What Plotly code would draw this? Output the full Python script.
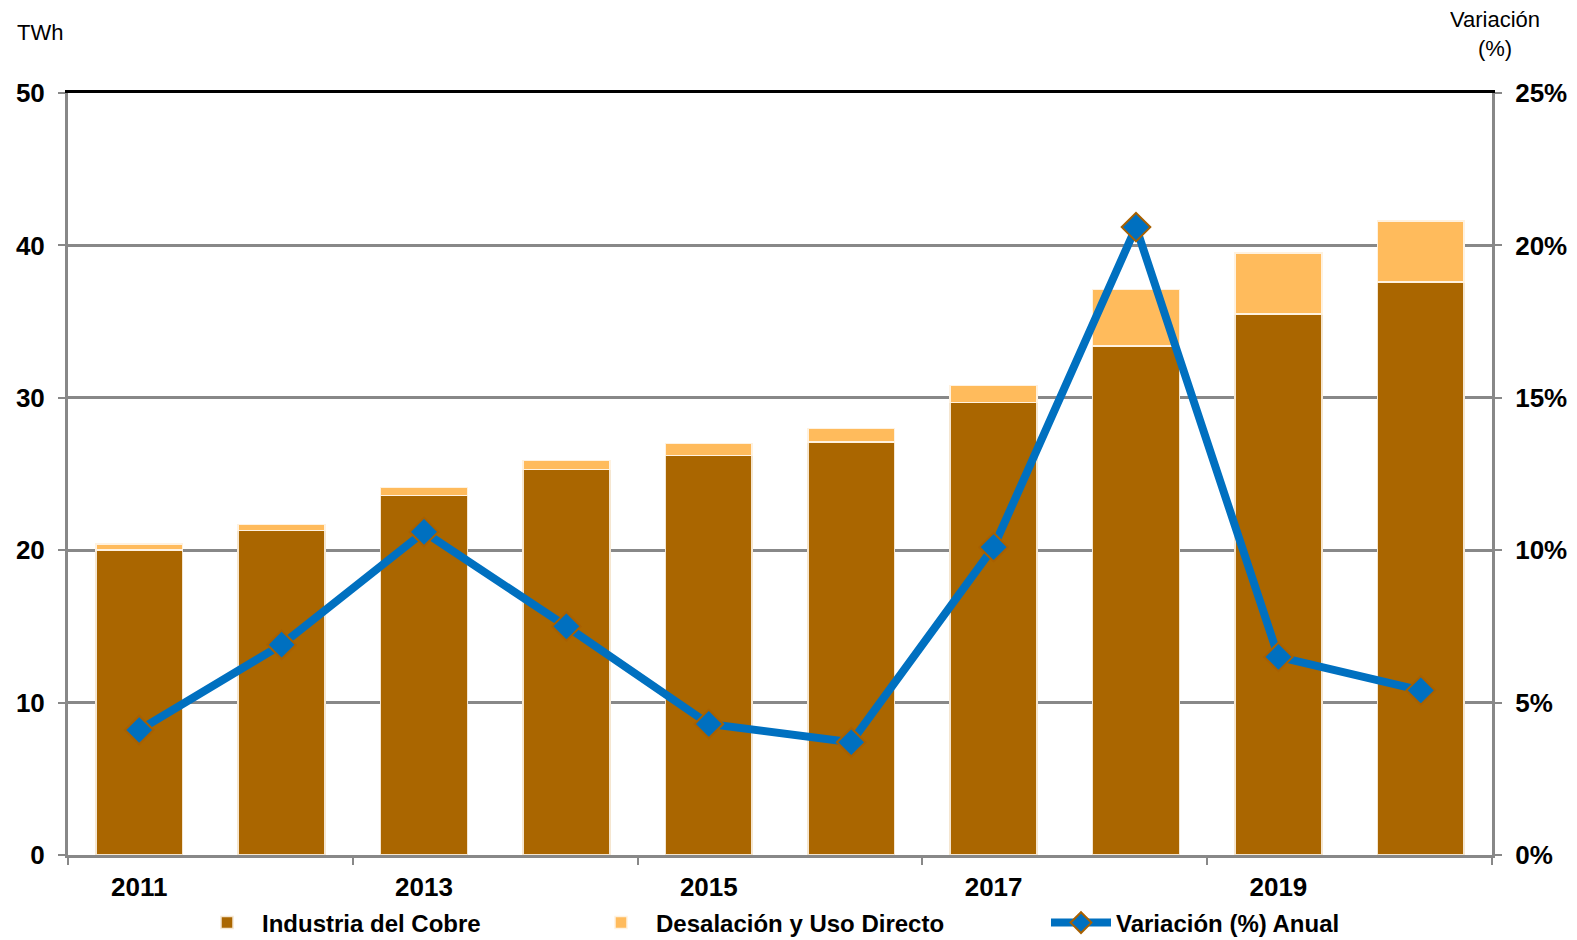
import plotly.graph_objects as go

years = [2011, 2012, 2013, 2014, 2015, 2016, 2017, 2018, 2019, 2020]
cobre = [20.0, 21.3, 23.6, 25.3, 26.2, 27.1, 29.7, 33.4, 35.5, 37.6]
desal = [0.4, 0.4, 0.5, 0.6, 0.8, 0.9, 1.1, 3.7, 4.0, 4.0]
variacion = [4.1, 6.9, 10.6, 7.5, 4.3, 3.7, 10.1, 20.6, 6.5, 5.4]
label_years = [2011, 2013, 2015, 2017, 2019]
y_ticks = [0, 10, 20, 30, 40, 50]
y2_ticks = [0, 5, 10, 15, 20, 25]

FAM = "Liberation Sans, Arial"
TICKF = dict(family=FAM, size=26, color="black", weight="bold")
LEGF = dict(family=FAM, size=24, color="black", weight="bold")

T, B, L, R = 85, 93, 60, 93
PH = 940 - T - B
PW = 1577 - L - R

fig = go.Figure()
fig.add_trace(go.Bar(x=years, y=cobre, name="Industria del Cobre", legend="legend",
                     marker=dict(color="#AA6600", line=dict(color="#F5E6D0", width=1.5))))
fig.add_trace(go.Bar(x=years, y=desal, name="Desalación y Uso Directo", legend="legend2",
                     marker=dict(color="#FFBB5C", line=dict(color="#FFF2E0", width=1.5))))
fig.add_trace(go.Scatter(x=years, y=[v / 100 for v in variacion], name="Variación (%) Anual",
                         legend="legend3", yaxis="y2", mode="lines+markers",
                         line=dict(color="#0070C0", width=8),
                         marker=dict(symbol="diamond", size=22, color="#0070C0",
                                     line=dict(color="#A86000", width=2))))
# invisible trace for a top border axis
fig.add_trace(go.Scatter(x=years, y=[None] * len(years), xaxis="x2", showlegend=False,
                         hoverinfo="skip"))

def leg(xpx):
    return dict(orientation="h", x=(xpx - L) / PW, xanchor="left",
                y=-(918 + 1 - 851) / PH, yanchor="middle", font=LEGF,
                bgcolor="rgba(0,0,0,0)", itemwidth=60)

fig.update_layout(
    width=1577, height=940,
    paper_bgcolor="white", plot_bgcolor="white",
    barmode="stack", bargap=0.39,
    margin=dict(l=L, r=R, t=T, b=B, autoexpand=False),
    font=dict(family=FAM, color="black"),
    xaxis=dict(range=[2010.5, 2020.5], tickvals=label_years,
               ticktext=[str(y) for y in label_years], ticks="",
               tickfont=TICKF, showgrid=False, showline=True, automargin=False,
               linecolor="#888888", linewidth=3, ticklabelstandoff=7,
               minor=dict(tickvals=[y - 0.5 for y in label_years] + [2020.5],
                          ticks="outside", ticklen=7, tickwidth=2, tickcolor="#888888")),
    xaxis2=dict(overlaying="x", side="top", range=[2010.5, 2020.5], showline=True,
                linecolor="black", linewidth=3, showticklabels=False, ticks="",
                showgrid=False, zeroline=False, automargin=False),
    yaxis=dict(range=[0, 50], tickvals=y_ticks, tickfont=TICKF, automargin=False,
               showgrid=True, gridcolor="#888888", gridwidth=3,
               showline=True, linecolor="#888888", linewidth=3,
               ticks="outside", ticklen=7, tickwidth=2, tickcolor="#888888",
               ticklabelstandoff=8, zeroline=False),
    yaxis2=dict(range=[0, 0.25], tickvals=[v / 100 for v in y2_ticks],
                ticktext=[f"{v}%" for v in y2_ticks], tickfont=TICKF, automargin=False,
                overlaying="y", side="right", showgrid=False,
                showline=True, linecolor="#888888", linewidth=3,
                ticks="outside", ticklen=7, tickwidth=2, tickcolor="#888888",
                ticklabelstandoff=8, zeroline=False),
    legend=leg(184),
    legend2=leg(578),
    legend3=leg(1038),
    annotations=[
        dict(text="TWh", xref="paper", yref="paper", x=(16 - 9 - L) / PW,
             y=(851 - 29) / PH, xanchor="left", yanchor="middle", showarrow=False,
             font=dict(size=22, family=FAM)),
        dict(text="Variación<br>(%)", xref="paper", yref="paper", x=(1487 - L) / PW,
             y=(851 - 30) / PH, xanchor="center", yanchor="middle", showarrow=False,
             font=dict(size=22, family=FAM), height=62, valign="middle"),
    ],
)

fig.write_html("out.html")
